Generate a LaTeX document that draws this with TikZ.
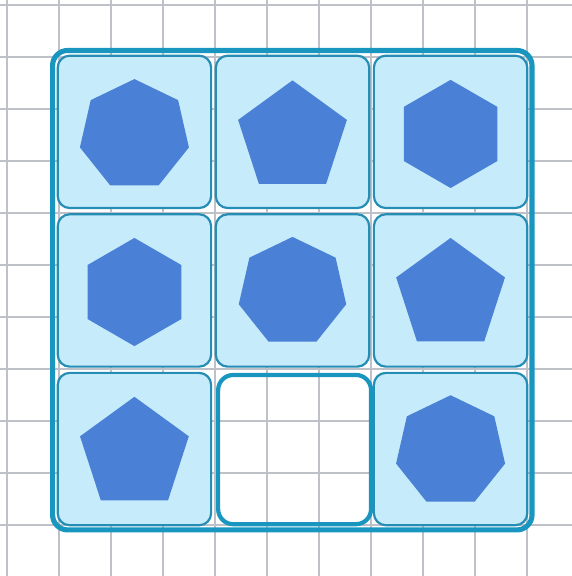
\documentclass[tikz,border=0pt]{standalone}
\usepackage{tikz}
\usetikzlibrary{shapes.geometric}
\definecolor{gridgray}{RGB}{190,194,200}
\definecolor{frameblue}{RGB}{24,150,192}
\definecolor{tileedge}{RGB}{38,142,180}
\definecolor{tileblue}{RGB}{198,236,251}
\definecolor{shapeblue}{RGB}{74,129,214}
\tikzset{
	gridline/.style={draw=gridgray, line width=0.8pt},
	board/.style={draw=frameblue, line width=2.8pt, rounded corners=0.29cm, minimum width=9.22cm, minimum height=9.22cm, inner sep=0pt},
	tile/.style={draw=tileedge, line width=1.2pt, fill=tileblue, rounded corners=0.23cm, minimum width=2.95cm, minimum height=2.93cm, inner sep=0pt},
	hole/.style={draw=frameblue, line width=2.3pt, rounded corners=0.29cm, minimum width=2.94cm, minimum height=2.87cm, inner sep=0pt},
	gon/.style={regular polygon, regular polygon sides=#1, fill=shapeblue, inner sep=0pt, outer sep=0pt},
}
% tile in column #1, row #2, polygon with #3 sides, size #4, shifted down by #5
\newcommand{\drawtile}[6]{%
	\node[tile] (tile#1#2) at (2.45 + 3.04*#1, 7.56 - 3.05*#2) {};
	\node[gon=#3, minimum size=#4cm, rotate=#6] (gon#1#2) at ([yshift=-#5cm]tile#1#2.center) {};
}

\begin{document}
\begin{tikzpicture}
	\useasboundingbox (-0.135,-0.981) rectangle (10.846,10.096);
	\foreach \x in {0,...,10}{
		\draw[gridline] (\x,-1) -- (\x,10.2);}
	\foreach \y in {0,...,10}{
		\draw[gridline] (-0.2,\y) -- (10.9,\y);}
	\node[board] (board) at (5.486,4.515) {};
	\drawtile{0}{0}{7}{2.15}{0.06}{0}
	\drawtile{1}{0}{5}{2.2}{0.11}{0}
	\drawtile{2}{0}{6}{2.08}{0.04}{30}
	\drawtile{0}{1}{6}{2.08}{0.03}{30}
	\drawtile{1}{1}{7}{2.12}{0.03}{0}
	\drawtile{2}{1}{5}{2.2}{0.09}{0}
	\drawtile{0}{2}{5}{2.2}{0.095}{0}
	\drawtile{2}{2}{7}{2.15}{0.04}{0}
	\node[hole] (hole12) at (5.53,1.45) {};
\end{tikzpicture}
\end{document}
